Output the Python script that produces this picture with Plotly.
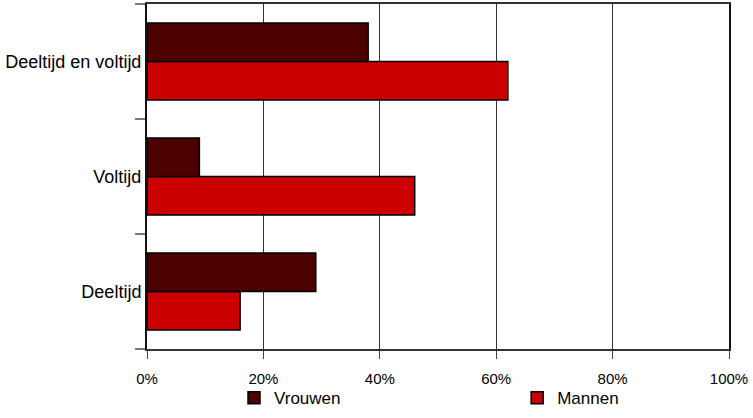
import plotly.graph_objects as go

categories = ["Deeltijd", "Voltijd", "Deeltijd en voltijd"]
vrouwen = [29, 9, 38]
mannen = [16, 46, 62]
tick_vals = [0, 20, 40, 60, 80, 100]
tick_text = ["0%", "20%", "40%", "60%", "80%", "100%"]

fig = go.Figure()
fig.add_trace(go.Bar(y=categories, x=mannen, name="Mannen", orientation="h", legend="legend2",
                     marker=dict(color="#cc0000", line=dict(color="#000000", width=1.5))))
fig.add_trace(go.Bar(y=categories, x=vrouwen, name="Vrouwen", orientation="h", legend="legend",
                     marker=dict(color="#4d0000", line=dict(color="#000000", width=1.5))))

font = "Liberation Sans, Arial, sans-serif"
leg_common = dict(orientation="h", y=-0.195, xanchor="left", yanchor="bottom",
                  font=dict(size=17, family=font), itemclick=False, bgcolor="rgba(0,0,0,0)")
fig.update_layout(
    width=753, height=418,
    margin=dict(l=147, r=24, t=2, b=68),
    barmode="group", bargap=0.33, bargroupgap=0,
    plot_bgcolor="white", paper_bgcolor="white",
    font=dict(family=font, size=17, color="#000000"),
    showlegend=True,
    legend=dict(x=0.1495, **leg_common),
    legend2=dict(x=0.636, **leg_common),
    xaxis=dict(range=[0, 100], tickvals=tick_vals, ticktext=tick_text,
               showgrid=True, gridcolor="#333333", gridwidth=1,
               showline=True, linecolor="#333333", linewidth=2, mirror=True,
               ticks="outside", ticklen=8, tickcolor="#444444", zeroline=False,
               ticklabelstandoff=7, tickfont=dict(size=15)),
    yaxis=dict(showline=True, linecolor="#111111", linewidth=2, mirror=True,
               ticks="outside", tickson="boundaries", ticklen=10, tickcolor="#777777",
               tickwidth=2, showgrid=False, tickfont=dict(size=18)),
)

fig.write_html("out.html")
